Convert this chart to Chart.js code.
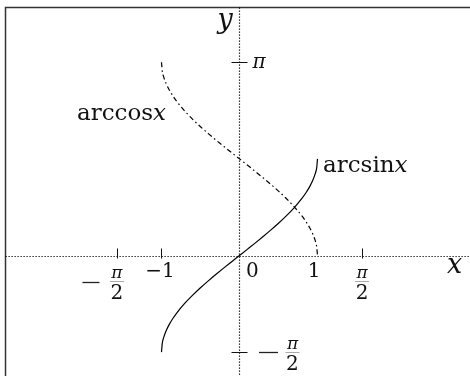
<!DOCTYPE html>
<html>
<head>
<meta charset="utf-8">
<script src="https://cdn.jsdelivr.net/npm/chart.js@4.4.0/dist/chart.umd.min.js"></script>
<style>
  html, body { margin: 0; padding: 0; background: #fff; }
  #plot { display: block; }
</style>
</head>
<body>
<canvas id="plot" width="470" height="376"></canvas>
<script>
// sample x positions along both curves
const xs = [-1, -0.99, -0.97, -0.94, -0.9, -0.85, -0.8, -0.7, -0.6, -0.5, -0.4, -0.3, -0.2, -0.1,
  0, 0.1, 0.2, 0.3, 0.4, 0.5, 0.6, 0.7, 0.8, 0.85, 0.9, 0.94, 0.97, 0.99, 1];

// values
const arcsinVals = [-1.571, -1.429, -1.326, -1.223, -1.120, -1.016, -0.927, -0.775, -0.644, -0.524, -0.412, -0.305, -0.201, -0.100,
  0, 0.100, 0.201, 0.305, 0.412, 0.524, 0.644, 0.775, 0.927, 1.016, 1.120, 1.223, 1.326, 1.429, 1.571];
const arccosVals = [3.142, 3.000, 2.897, 2.794, 2.691, 2.587, 2.498, 2.346, 2.214, 2.094, 1.982, 1.875, 1.772, 1.671,
  1.571, 1.471, 1.369, 1.266, 1.159, 1.047, 0.927, 0.795, 0.644, 0.555, 0.451, 0.348, 0.245, 0.142, 0];

// axis ticks
const xTicks = [-Math.PI / 2, -1, Math.PI / 2];
const yTicks = [Math.PI, -Math.PI / 2];
const numLabels = [{ v: -1, text: '\u22121', dx: -1.5 }, { v: 0, text: '0', dx: 13 }, { v: 1, text: '1', dx: -3.5 }];

// visible window of the plane
const xMin = -3.07, xMax = 2.955;
const yMin = -1.959, yMax = 4.154;
const frameX = -3.0, frameY = 4.033;

const SERIF = '"DejaVu Serif", serif';

function pts(ys) { return xs.map((x, i) => ({ x: x, y: ys[i] })); }

function minus(ctx, cx, y, half) {
  ctx.strokeStyle = '#222';
  ctx.lineWidth = 1.3;
  ctx.beginPath();
  ctx.moveTo(cx - half, y);
  ctx.lineTo(cx + half, y);
  ctx.stroke();
}

function drawFrac(ctx, cx, barY) {
  ctx.fillStyle = '#111';
  ctx.textAlign = 'center';
  ctx.textBaseline = 'alphabetic';
  ctx.font = 'italic 17px ' + SERIF;
  ctx.fillText('\u03c0', cx, barY - 3);
  ctx.strokeStyle = '#aaa';
  ctx.lineWidth = 1;
  ctx.beginPath();
  ctx.moveTo(cx - 7, barY + 0.5);
  ctx.lineTo(cx + 7, barY + 0.5);
  ctx.stroke();
  ctx.font = '20px ' + SERIF;
  ctx.textBaseline = 'top';
  ctx.fillText('2', cx, barY + 3);
}

const axesPlugin = {
  id: 'axesPlugin',
  beforeDatasetsDraw(chart) {
    const ctx = chart.ctx;
    const sx = chart.scales.x, sy = chart.scales.y;
    const ox = Math.round(sx.getPixelForValue(0)) + 0.5;
    const oy = Math.round(sy.getPixelForValue(0)) + 0.5;
    ctx.save();
    // frame
    const fx = Math.round(sx.getPixelForValue(frameX)) + 0.5;
    const fy = Math.round(sy.getPixelForValue(frameY)) + 0.5;
    ctx.strokeStyle = '#333';
    ctx.lineWidth = 1.5;
    ctx.beginPath();
    ctx.moveTo(fx, chart.height + 5);
    ctx.lineTo(fx, fy);
    ctx.lineTo(chart.width + 5, fy);
    ctx.stroke();
    // dotted axes
    ctx.strokeStyle = '#000';
    ctx.lineWidth = 1.2;
    ctx.setLineDash([1.2, 1.8]);
    ctx.beginPath();
    ctx.moveTo(fx, oy);
    ctx.lineTo(chart.width, oy);
    ctx.moveTo(ox, fy);
    ctx.lineTo(ox, chart.height);
    ctx.stroke();
    ctx.setLineDash([]);
    // ticks
    ctx.strokeStyle = '#111';
    ctx.lineWidth = 1;
    ctx.beginPath();
    xTicks.forEach(v => {
      const p = Math.round(sx.getPixelForValue(v)) + 0.5;
      ctx.moveTo(p, oy - 8);
      ctx.lineTo(p, oy + 2);
    });
    yTicks.forEach(v => {
      const p = Math.round(sy.getPixelForValue(v)) + 0.5;
      ctx.moveTo(ox - 8, p);
      ctx.lineTo(ox + 8, p);
    });
    ctx.stroke();
    ctx.restore();
  },
  afterDraw(chart) {
    const ctx = chart.ctx;
    const sx = chart.scales.x, sy = chart.scales.y;
    const ox = sx.getPixelForValue(0), oy = sy.getPixelForValue(0);
    ctx.save();
    ctx.fillStyle = '#111';

    // axis names
    ctx.textAlign = 'left';
    ctx.textBaseline = 'alphabetic';
    ctx.font = 'italic 27px ' + SERIF;
    ctx.fillText('y', ox - 22, 28);
    ctx.fillText('x', chart.width - 23, oy + 17);

    // numeric labels on x axis
    ctx.font = '20px ' + SERIF;
    ctx.textAlign = 'center';
    numLabels.forEach(l => ctx.fillText(l.text, sx.getPixelForValue(l.v) + l.dx, oy + 21));

    // -pi/2 and pi/2 on x axis
    const barY = Math.round(oy + 25);
    const xm = sx.getPixelForValue(xTicks[0]);
    const xp = sx.getPixelForValue(xTicks[2]);
    minus(ctx, xm - 26, barY + 1.5, 8.5);
    drawFrac(ctx, xm, barY);
    drawFrac(ctx, xp, barY);

    // pi and -pi/2 on y axis
    const yPi = sy.getPixelForValue(yTicks[0]);
    const yMh = Math.round(sy.getPixelForValue(yTicks[1]));
    ctx.fillStyle = '#111';
    ctx.font = 'italic 20px ' + SERIF;
    ctx.textAlign = 'left';
    ctx.textBaseline = 'alphabetic';
    ctx.fillText('\u03c0', ox + 13, yPi + 6);
    minus(ctx, ox + 29, yMh + 0.5, 9.5);
    drawFrac(ctx, ox + 53, yMh);

    // curve names
    ctx.fillStyle = '#111';
    ctx.textAlign = 'left';
    ctx.textBaseline = 'alphabetic';
    const label = (word, x, y) => {
      ctx.font = '23px ' + SERIF;
      ctx.fillText(word, x, y);
      const w = ctx.measureText(word).width;
      ctx.font = 'italic 23px ' + SERIF;
      ctx.fillText('x', x + w, y);
    };
    label('arccos', 77, 120);
    label('arcsin', 323, 172);
    ctx.restore();
  }
};

new Chart(document.getElementById('plot'), {
  type: 'scatter',
  data: {
    datasets: [
      {
        label: 'arcsin x',
        data: pts(arcsinVals),
        showLine: true,
        borderColor: '#000',
        borderWidth: 1.2,
        pointRadius: 0,
        cubicInterpolationMode: 'monotone'
      },
      {
        label: 'arccos x',
        data: pts(arccosVals),
        showLine: true,
        borderColor: '#000',
        borderWidth: 1.2,
        borderDash: [5, 3, 1.5, 3],
        pointRadius: 0,
        cubicInterpolationMode: 'monotone'
      }
    ]
  },
  options: {
    responsive: false,
    animation: false,
    devicePixelRatio: 1,
    layout: { padding: 0 },
    plugins: { legend: { display: false }, tooltip: { enabled: false } },
    scales: {
      x: { type: 'linear', min: xMin, max: xMax, display: false },
      y: { type: 'linear', min: yMin, max: yMax, display: false }
    }
  },
  plugins: [axesPlugin]
});
</script>
</body>
</html>
